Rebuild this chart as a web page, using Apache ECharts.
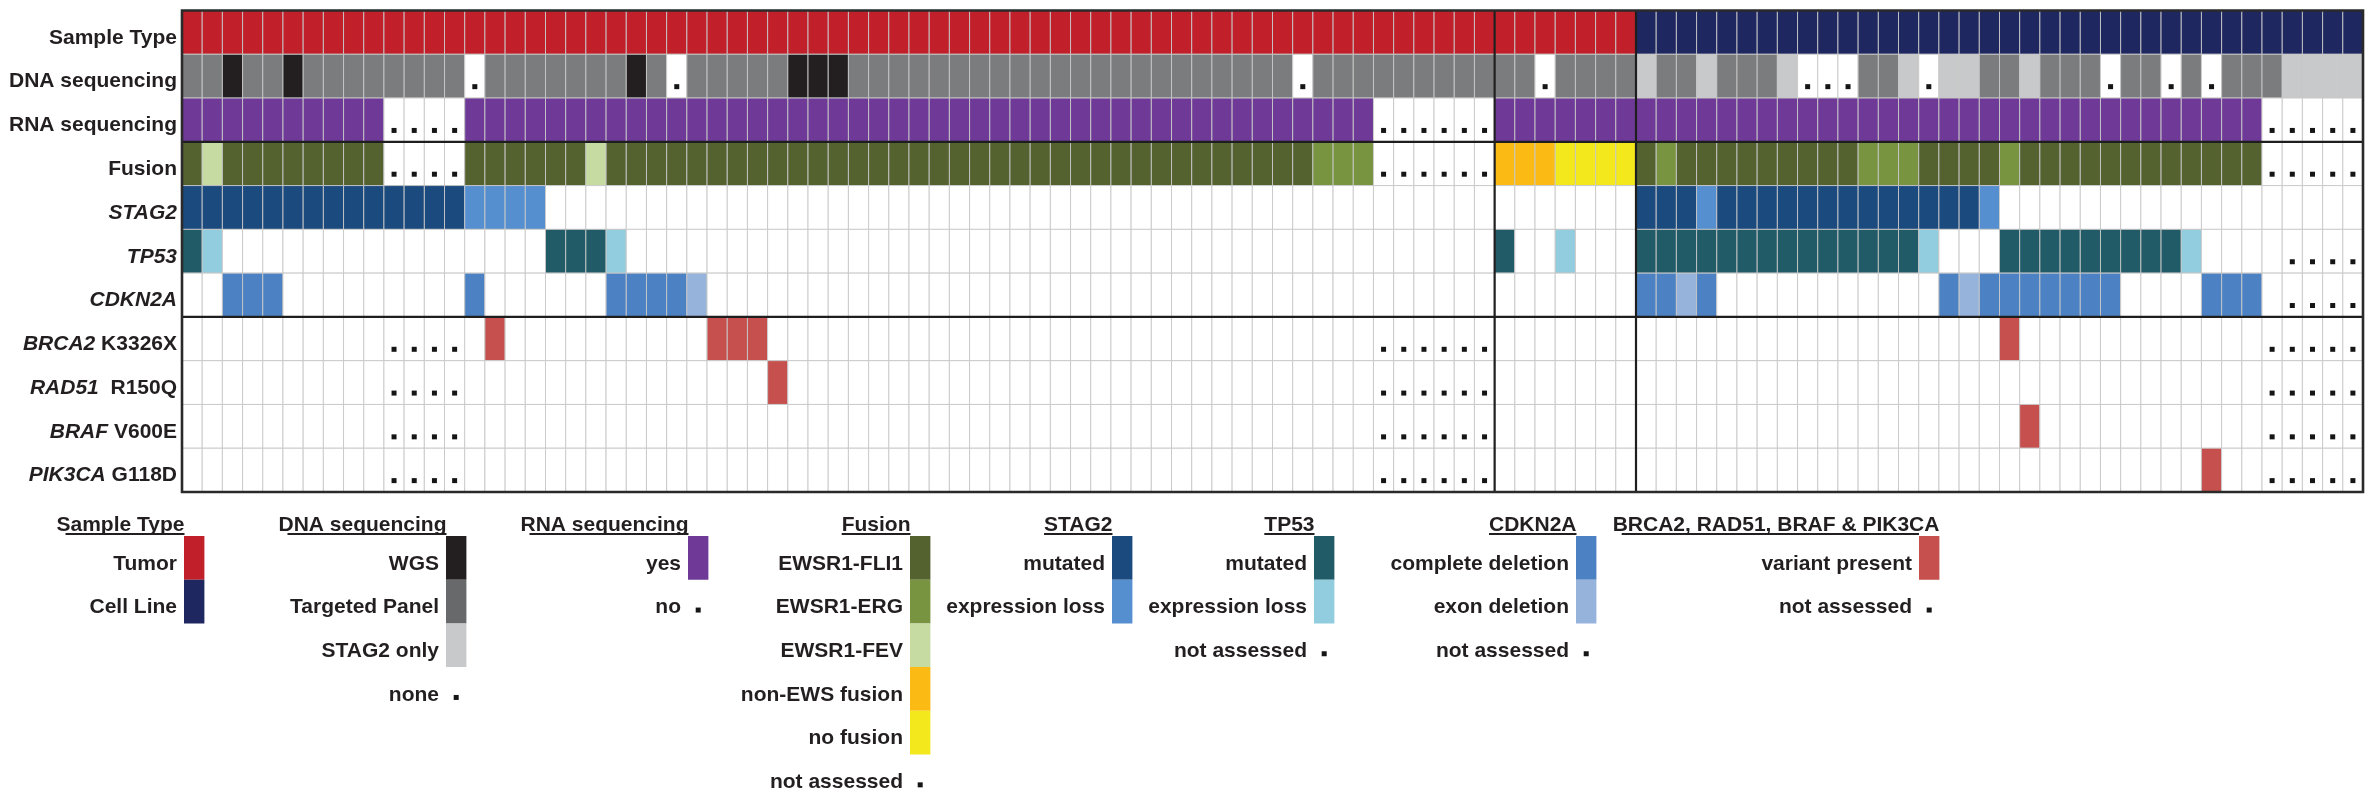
<!DOCTYPE html>
<html>
<head>
<meta charset="utf-8">
<script src="https://cdn.jsdelivr.net/npm/echarts@6/dist/echarts.min.js"></script>
<style>
html, body { margin: 0; padding: 0; background: #fff; }
#main { width: 2374px; height: 800px; }
</style>
</head>
<body>
<div id="main"></div>
<script>
// one character per sample (108 samples: 65 + 7 tumors, then 36 cell lines)
// '-' = nothing, 'N' = none / not assessed (drawn as a dot)
const codes = s => s.replace(/\s/g, '').split('')

const sampleType = codes('TTTTTTTTTT TTTTTTTTTT TTTTTTTTTT TTTTTTTTTT TTTTTTTTTT TTTTTTTTTT TTTTTTTTTT TTCCCCCCCC CCCCCCCCCC CCCCCCCCCC CCCCCCCC')
const dnaSeq     = codes('PPWPPWPPPP PPPPNPPPPP PPWPNPPPPP WWWPPPPPPP PPPPPPPPPP PPPPPNPPPP PPPPPPPNPP PPSPPSPPPS NNNPPSNSSP PSPPPNPPNP NPPPSSSS')
const rnaSeq     = codes('YYYYYYYYYY NNNNYYYYYY YYYYYYYYYY YYYYYYYYYY YYYYYYYYYY YYYYYYYYYN NNNNNYYYYY YYYYYYYYYY YYYYYYYYYY YYYYYYYYYY YYYNNNNN')
const fusion     = codes('FVFFFFFFFF NNNNFFFFFF VFFFFFFFFF FFFFFFFFFF FFFFFFFFFF FFFFFFEEEN NNNNNOOOZZ ZZFEFFFFFF FFFEEEFFFF EFFFFFFFFF FFFNNNNN')
const stag2      = codes('MMMMMMMMMM MMMMLLLL-- ---------- ---------- ---------- ---------- ---------- --MMMLMMMM MMMMMMMMML ---------- --------')
const tp53       = codes('ML-------- --------MM ML-------- ---------- ---------- ---------- -----M--L- --MMMMMMMM MMMMMML--- MMMMMMMMML ----NNNN')
const cdkn2a     = codes('--DDD----- ----D----- -DDDDX---- ---------- ---------- ---------- ---------- --DDXD---- -------DXD DDDDDD---- DDD-NNNN')
const brca2      = codes('---------- NNNN-V---- ------VVV- ---------- ---------- ---------N NNNNN----- ---------- ---------- V--------- ---NNNNN')
const rad51      = codes('---------- NNNN------ ---------V ---------- ---------- ---------N NNNNN----- ---------- ---------- ---------- ---NNNNN')
const braf       = codes('---------- NNNN------ ---------- ---------- ---------- ---------N NNNNN----- ---------- ---------- -V-------- ---NNNNN')
const pik3ca     = codes('---------- NNNN------ ---------- ---------- ---------- ---------N NNNNN----- ---------- ---------- ---------- V--NNNNN')

const rowGenes    = ['', '', '', '', 'STAG2', 'TP53', 'CDKN2A', 'BRCA2', 'RAD51', 'BRAF', 'PIK3CA']
const rowTexts    = ['Sample Type', 'DNA sequencing', 'RNA sequencing', 'Fusion', '', '', '', 'K3326X', ' R150Q', 'V600E', 'G118D']
const groupBreaks = [65, 72]   // vertical separators (before these samples)
const blockBreaks = [3, 7]     // horizontal separators (before these rows)

// colours per row
const sampleColors = { T: '#c1202b', C: '#1e2760' }
const dnaColors    = { W: '#231f20', P: '#7b7c7e', S: '#c8c9cb' }
const rnaColors    = { Y: '#6f3a97' }
const fusionColors = { F: '#53622f', E: '#789440', V: '#c6dba2', O: '#fcbb14', Z: '#f2e81b' }
const stag2Colors  = { M: '#1b4a7e', L: '#568fcf' }
const tp53Colors   = { M: '#215b67', L: '#92cddf' }
const cdknColors   = { D: '#4c82c3', X: '#96b3dc' }
const mutColors    = { V: '#c5504e' }

const rows = [sampleType, dnaSeq, rnaSeq, fusion, stag2, tp53, cdkn2a, brca2, rad51, braf, pik3ca]
const rowColors = [sampleColors, dnaColors, rnaColors, fusionColors, stag2Colors, tp53Colors, cdknColors, mutColors, mutColors, mutColors, mutColors]

// legend
const legendTitles = ['Sample Type', 'DNA sequencing', 'RNA sequencing', 'Fusion', 'STAG2', 'TP53', 'CDKN2A', 'BRCA2, RAD51, BRAF & PIK3CA']
const legendLabels = [
    ['Tumor', 'Cell Line'],
    ['WGS', 'Targeted Panel', 'STAG2 only', 'none'],
    ['yes', 'no'],
    ['EWSR1-FLI1', 'EWSR1-ERG', 'EWSR1-FEV', 'non-EWS fusion', 'no fusion', 'not assessed'],
    ['mutated', 'expression loss'],
    ['mutated', 'expression loss', 'not assessed'],
    ['complete deletion', 'exon deletion', 'not assessed'],
    ['variant present', 'not assessed']
]
const legendColors = [
    ['#c1202b', '#1e2760'],
    ['#231f20', '#68696b', '#c8c9cb', null],
    ['#6f3a97', null],
    ['#53622f', '#789440', '#c6dba2', '#fcbb14', '#f2e81b', null],
    ['#1b4a7e', '#568fcf'],
    ['#215b67', '#92cddf', null],
    ['#4c82c3', '#96b3dc', null],
    ['#c5504e', null]
]
const legendSwatchX = [184, 446, 688, 910, 1112, 1314, 1576, 1919]

const FONT = '"Liberation Sans", Arial, Helvetica, sans-serif'
const samples = sampleType.map((_, i) => 'S' + (i + 1))

const cellData = []
rows.forEach((r, ri) => r.forEach((_, i) => cellData.push([i, ri])))

function renderCell(params, api) {
    const i = api.value(0)
    const r = api.value(1)
    const code = rows[r][i]
    const c = api.coord([i, r])
    const s = api.size([1, 1])
    const x = c[0] - s[0] / 2
    const y = c[1] - s[1] / 2
    const children = [{
        type: 'rect',
        shape: { x: x, y: y, width: s[0], height: s[1] },
        style: { fill: rowColors[r][code] || '#fff', stroke: 'rgba(200,200,200,0.9)', lineWidth: 1 }
    }]
    if (code === 'N') {
        children.push({
            type: 'rect',
            shape: { x: c[0] - 2.5, y: y + s[1] * 0.74 - 2.5, width: 5, height: 5 },
            style: { fill: '#151515' }
        })
    }
    return { type: 'group', children: children }
}

function renderFrame(params, api) {
    const cs = params.coordSys
    const s = api.size([1, 1])
    const children = []
    groupBreaks.forEach(b => {
        const x = api.coord([b, 0])[0] - s[0] / 2
        children.push({ type: 'line', shape: { x1: x, y1: cs.y, x2: x, y2: cs.y + cs.height }, style: { stroke: '#1e1e1e', lineWidth: 2.2 } })
    })
    blockBreaks.forEach(b => {
        const y = api.coord([0, b])[1] - s[1] / 2
        children.push({ type: 'line', shape: { x1: cs.x, y1: y, x2: cs.x + cs.width, y2: y }, style: { stroke: '#1e1e1e', lineWidth: 2.2 } })
    })
    children.push({ type: 'rect', shape: { x: cs.x, y: cs.y, width: cs.width, height: cs.height }, style: { fill: 'none', stroke: '#2a2a2a', lineWidth: 2.6 } })
    return { type: 'group', children: children }
}

// legend drawn as graphic elements
const ctx = document.createElement('canvas').getContext('2d')
ctx.font = 'bold 21px ' + FONT
const legendTop = 536
const legendRowH = 43.7
const swatchW = 20.4
const graphics = []
legendTitles.forEach((title, g) => {
    const sx = legendSwatchX[g]
    const last = g === legendTitles.length - 1
    const titleRight = last ? sx + swatchW : sx + 0.5
    const tw = ctx.measureText(title).width
    graphics.push({
        type: 'text', x: titleRight, y: 525,
        style: { text: title, font: 'bold 21px ' + FONT, fill: '#231f20', align: 'right', verticalAlign: 'middle' }
    })
    const inset = tw > 100 ? 9 : 0
    graphics.push({
        type: 'line',
        shape: { x1: titleRight - tw + inset, y1: 534, x2: last ? sx : titleRight, y2: 534 },
        style: { stroke: '#231f20', lineWidth: 2 }
    })
    legendLabels[g].forEach((label, k) => {
        const cy = legendTop + legendRowH * (k + 0.5)
        const col = legendColors[g][k]
        if (col) {
            graphics.push({ type: 'rect', shape: { x: sx, y: legendTop + legendRowH * k, width: swatchW, height: legendRowH }, style: { fill: col } })
        } else {
            graphics.push({ type: 'rect', shape: { x: sx + swatchW / 2 - 2.5, y: cy + 6, width: 5, height: 5 }, style: { fill: '#151515' } })
        }
        graphics.push({
            type: 'text', x: sx - 7, y: cy + 6,
            style: { text: label, font: 'bold 21px ' + FONT, fill: '#231f20', align: 'right', verticalAlign: 'middle' }
        })
    })
})

const option = {
    animation: false,
    backgroundColor: '#fff',
    grid: { left: 182, right: 11, top: 10.5, bottom: 308 },
    xAxis: {
        type: 'category',
        data: samples,
        show: false
    },
    yAxis: {
        type: 'category',
        inverse: true,
        data: rowGenes.map((g, i) => (g + ' ' + rowTexts[i]).trim()),
        axisLine: { show: false },
        axisTick: { show: false },
        splitLine: { show: false },
        axisLabel: {
            margin: 5,
            formatter: (v, i) => {
                const parts = []
                if (rowGenes[i]) parts.push('{i|' + rowGenes[i] + '}')
                if (rowTexts[i]) parts.push('{n|' + rowTexts[i] + '}')
                return parts.join('{n| }')
            },
            padding: [11, 0, 0, 0],
            rich: {
                i: { fontFamily: FONT, fontSize: 21, fontWeight: 'bold', fontStyle: 'italic', color: '#231f20' },
                n: { fontFamily: FONT, fontSize: 21, fontWeight: 'bold', color: '#231f20' }
            }
        }
    },
    series: [
        {
            type: 'custom',
            renderItem: renderCell,
            data: cellData,
            encode: { x: 0, y: 1 },
            silent: true
        },
        {
            type: 'custom',
            renderItem: renderFrame,
            data: [[0, 0]],
            encode: { x: 0, y: 1 },
            silent: true,
            z: 5
        }
    ],
    graphic: graphics
}

const myChart = echarts.init(document.getElementById('main'))
myChart.setOption(option)
</script>
</body>
</html>
